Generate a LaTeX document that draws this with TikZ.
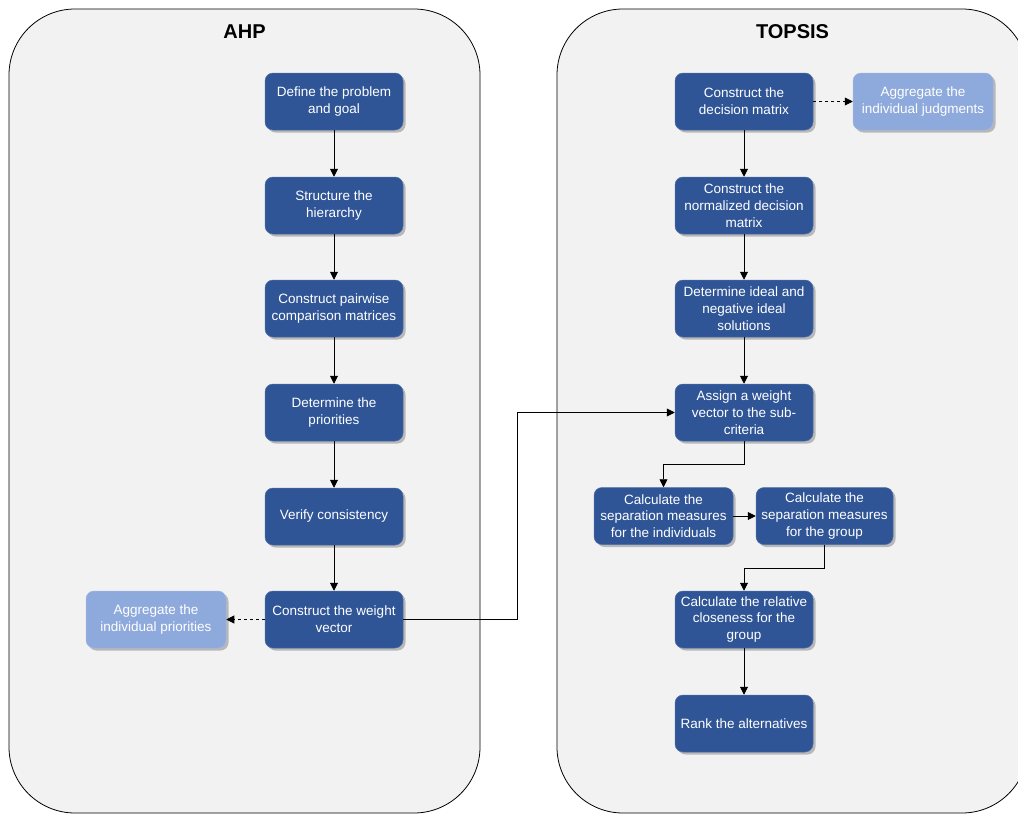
\documentclass[tikz,border=0pt]{standalone}
\usepackage{fontspec}
\setmainfont{Liberation Sans}
\usetikzlibrary{arrows.meta,shadows}
\definecolor{darkblue}{RGB}{47,85,151}
\definecolor{lightblue}{RGB}{142,169,219}
\definecolor{panelgray}{RGB}{242,242,242}
\begin{document}
\begin{tikzpicture}[x=1pt,y=-1pt,
  panelbox/.style={draw=black, line width=0.8pt, fill=panelgray, rounded corners=66pt},
  titletext/.style={font=\fontsize{20}{24}\selectfont\bfseries, text=black},
  basebox/.style={rectangle, rounded corners=8pt, minimum width=138pt, minimum height=57pt,
    inner sep=1pt, align=center, text=white, font=\fontsize{13.5}{16.8}\selectfont,
    drop shadow={shadow xshift=2.5pt, shadow yshift=-2.5pt, fill=black!28, opacity=1}},
  darkbox/.style={basebox, fill=darkblue, draw=darkblue!85!white, line width=0.5pt},
  lightbox/.style={basebox, fill=lightblue, draw=lightblue!85!white, line width=0.5pt},
  arr/.style={draw=black, line width=0.9pt, -{Triangle[length=8pt,width=8pt]}},
  dasharr/.style={arr, dash pattern=on 3pt off 3pt}
]
\clip (0,0) rectangle (1018,814);
\fill[white] (0,0) rectangle (1018,814);

% panels
\draw[panelbox] (9,9) rectangle (480,813);
\draw[panelbox] (557,9) rectangle (1028,813);
\node[titletext] (t1) at (244.5,32) {AHP};
\node[titletext] (t2) at (792.5,32) {TOPSIS};

% AHP column
\node[darkbox] (a1) at (334,101.5) {Define the problem\\and goal};
\node[darkbox] (a2) at (334,205.5) {Structure the\\hierarchy};
\node[darkbox] (a3) at (334,308.5) {Construct pairwise\\comparison matrices};
\node[darkbox] (a4) at (334,412.5) {Determine the\\priorities};
\node[darkbox] (a5) at (334,516.5) {Verify consistency};
\node[darkbox] (a6) at (334,619.5) {Construct the weight\\vector};
\node[lightbox, minimum width=140pt] (aagg) at (156,619.5) {Aggregate the\\individual priorities};

% TOPSIS column
\node[darkbox] (r1) at (744,101.5) {Construct the\\decision matrix};
\node[lightbox, minimum width=140pt] (ragg) at (923,101.5) {Aggregate the\\individual judgments};
\node[darkbox] (r2) at (744,205.5) {Construct the\\normalized decision\\matrix};
\node[darkbox] (r3) at (744,308.5) {Determine ideal and\\negative ideal\\solutions};
\node[darkbox] (r4) at (744,412.5) {Assign a weight\\vector to the sub-\\criteria};
\node[darkbox, minimum width=139pt] (r5) at (663.5,516) {Calculate the\\separation measures\\for the individuals};
\node[darkbox, minimum width=137pt] (r6) at (824.5,516) {Calculate the\\separation measures\\for the group};
\node[darkbox] (r7) at (744,619.5) {Calculate the relative\\closeness for the\\group};
\node[darkbox] (r8) at (744,723.5) {Rank the alternatives};

% connectors AHP
\draw[arr] (a1) -- (a2);
\draw[arr] (a2) -- (a3);
\draw[arr] (a3) -- (a4);
\draw[arr] (a4) -- (a5);
\draw[arr] (a5) -- (a6);
\draw[dasharr] (a6) -- (aagg);
\draw[arr] (a6.east) -- ++(114,0) |- (r4.west);

% connectors TOPSIS
\draw[dasharr] (r1) -- (ragg);
\draw[arr] (r1) -- (r2);
\draw[arr] (r2) -- (r3);
\draw[arr] (r3) -- (r4);
\draw[arr] (r4.south) -- ++(0,23) -| (r5.north);
\draw[arr] (r5) -- (r6);
\draw[arr] (r6.south) -- ++(0,24) -| (r7.north);
\draw[arr] (r7) -- (r8);
\end{tikzpicture}
\end{document}
